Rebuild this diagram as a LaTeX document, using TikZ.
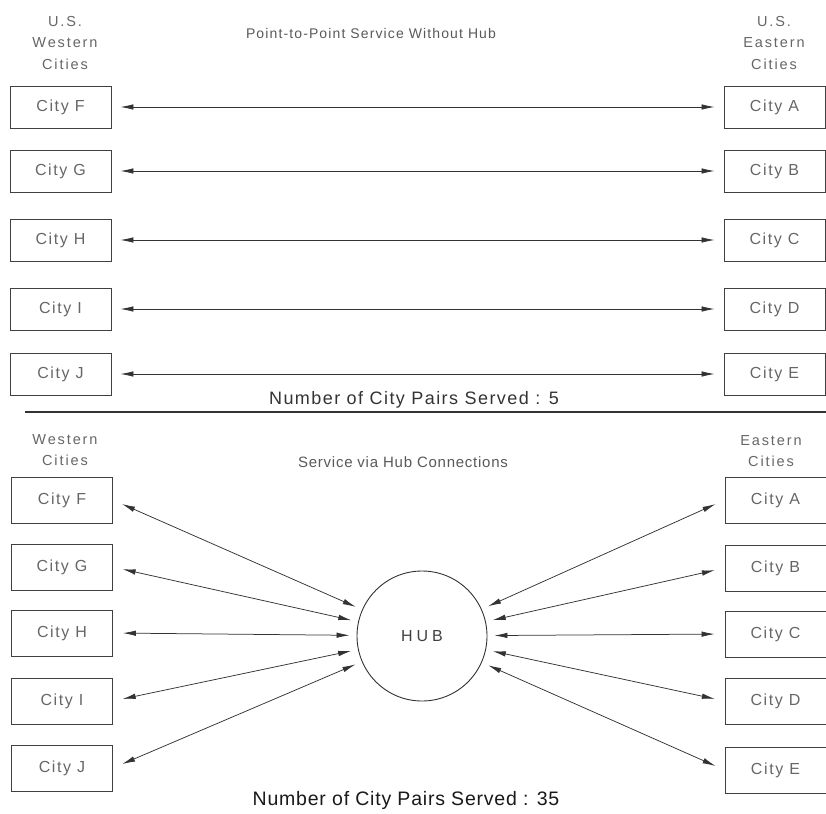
\documentclass[tikz,border=0pt]{standalone}
\usepackage{fontspec}
\setmainfont{Liberation Sans}
\usetikzlibrary{arrows.meta}
\begin{document}
\begin{tikzpicture}[x=1pt,y=-1pt,
  city/.style={draw=black!75, line width=0.8pt, minimum width=101pt, inner sep=0pt, text=black!60,
               font=\fontsize{16}{18}\selectfont\addfontfeatures{LetterSpace=10}},
  topcity/.style={city, minimum height=42pt},
  botcity/.style={city, minimum height=46pt},
  hdr/.style={text=black!60, align=center, inner sep=0pt,
              font=\fontsize{14.5}{21.5}\selectfont\addfontfeatures{LetterSpace=13}},
  ttl/.style={text=black!65, inner sep=0pt},
  link/.style={draw=black!80, line width=0.75pt, {Latex[length=13pt,width=5.5pt]}-{Latex[length=13pt,width=5.5pt]}},
  toplink/.style={link, shorten <=9pt, shorten >=9pt},
  hublink/.style={link, shorten <=10pt, shorten >=7pt}
]
\useasboundingbox (0,0) rectangle (826,813);

% ---------- top section ----------
\node[hdr] (hw1) at (65,43) {U.S.\\Western\\Cities};
\node[hdr] (he1) at (774,43) {U.S.\\Eastern\\Cities};
\node[ttl, font=\fontsize{14}{16}\selectfont\addfontfeatures{LetterSpace=8}] (t1) at (371,33) {Point-to-Point Service Without Hub};

\node[topcity] (tF) at (60.5,107) {City F};
\node[topcity] (tG) at (60.5,171) {City G};
\node[topcity] (tH) at (60.5,240) {City H};
\node[topcity] (tI) at (60.5,309) {City I};
\node[topcity] (tJ) at (60.5,374) {City J};

\node[topcity] (tA) at (774.5,107) {City A};
\node[topcity] (tB) at (774.5,171) {City B};
\node[topcity] (tC) at (774.5,240) {City C};
\node[topcity] (tD) at (774.5,309) {City D};
\node[topcity] (tE) at (774.5,374) {City E};

\draw[toplink] (tF) -- (tA);
\draw[toplink] (tG) -- (tB);
\draw[toplink] (tH) -- (tC);
\draw[toplink] (tI) -- (tD);
\draw[toplink] (tJ) -- (tE);

\node[ttl, text=black!80, font=\fontsize{18}{20}\selectfont\addfontfeatures{LetterSpace=8}] (n1) at (414,400) {Number of City Pairs Served : 5};

\coordinate (sepL) at (25,412);
\coordinate (sepR) at (826,412);
\draw[line width=1.6pt, black!80] (sepL) -- (sepR);

% ---------- bottom section ----------
\node[hdr] (hw2) at (65,450) {Western\\Cities};
\node[hdr] (he2) at (771,451) {Eastern\\Cities};
\node[ttl, font=\fontsize{15}{17}\selectfont\addfontfeatures{LetterSpace=5}] (t2) at (403,462) {Service via Hub Connections};

\node[botcity] (bF) at (62,500) {City F};
\node[botcity] (bG) at (62,567) {City G};
\node[botcity] (bH) at (62,633) {City H};
\node[botcity] (bI) at (62,701) {City I};
\node[botcity] (bJ) at (62,768) {City J};

\node[botcity] (bA) at (775.5,500) {City A};
\node[botcity] (bB) at (775.5,568) {City B};
\node[botcity] (bC) at (775.5,634) {City C};
\node[botcity] (bD) at (775.5,701) {City D};
\node[botcity] (bE) at (775.5,770) {City E};

\node[circle, draw=black!80, line width=0.9pt, minimum size=130pt, inner sep=0pt, text=black!75,
      font=\fontsize{16}{18}\selectfont\addfontfeatures{LetterSpace=25}] (hub) at (422,636) {HUB};

\draw[hublink] (bF.east) -- (hub);
\draw[hublink] (bG.east) -- (hub);
\draw[hublink] (bH.east) -- (hub);
\draw[hublink] (bI.east) -- (hub);
\draw[hublink] (bJ.east) -- (hub);
\draw[hublink] (bA.west) -- (hub);
\draw[hublink] (bB.west) -- (hub);
\draw[hublink] (bC.west) -- (hub);
\draw[hublink] (bD.west) -- (hub);
\draw[hublink] (bE.west) -- (hub);

\node[ttl, text=black!90, font=\fontsize{19.5}{21}\selectfont\addfontfeatures{LetterSpace=4}] (n2) at (406,800) {Number of City Pairs Served : 35};
\end{tikzpicture}
\end{document}
